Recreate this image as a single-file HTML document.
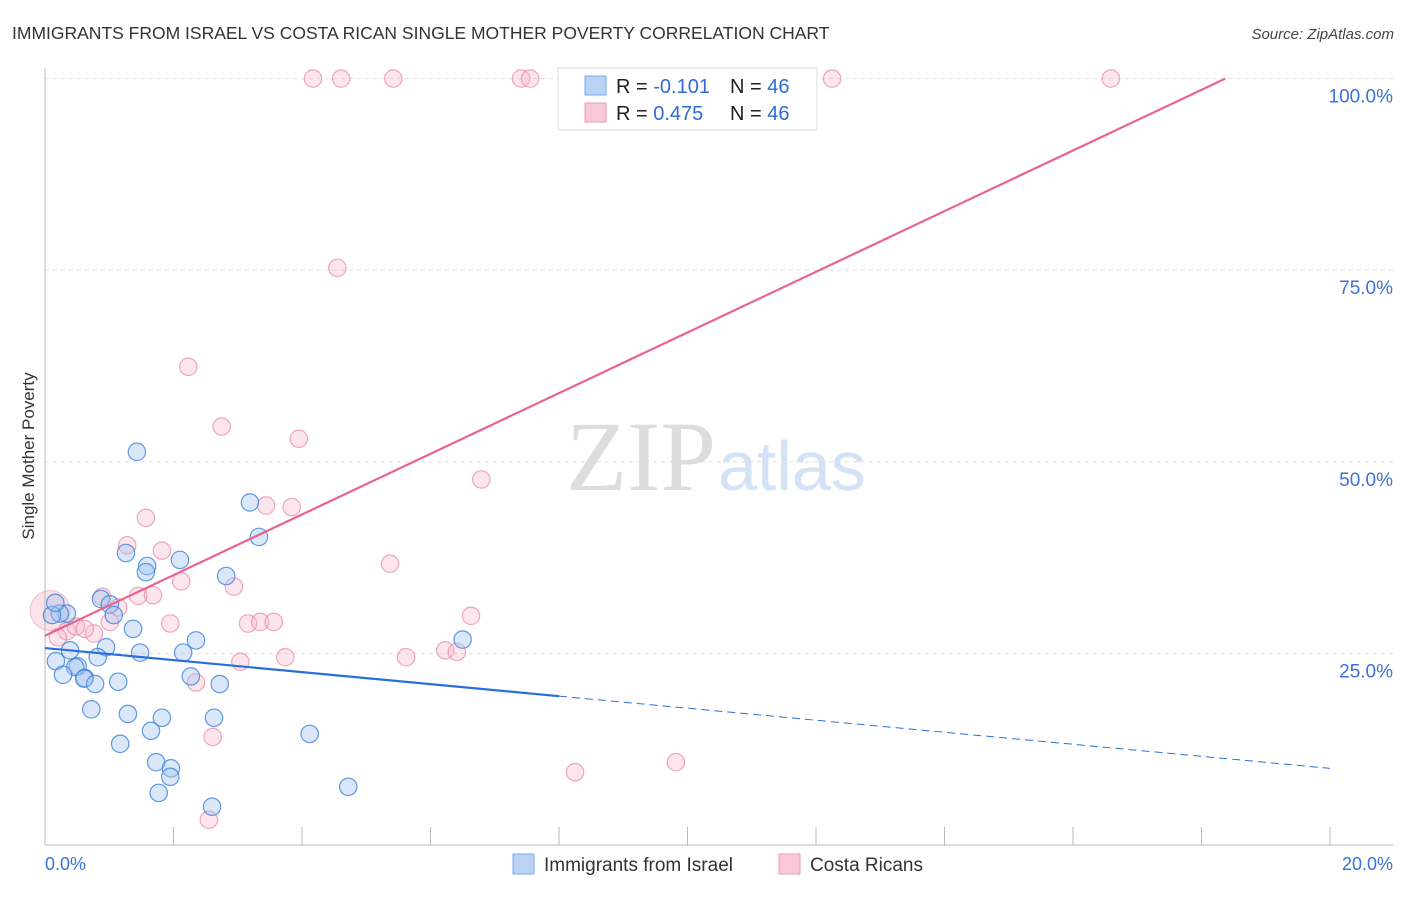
<!DOCTYPE html>
<html><head><meta charset="utf-8"><style>
body{margin:0;background:#fff;font-family:"Liberation Sans",sans-serif}
svg text{font-family:"Liberation Sans",sans-serif}
</style></head><body>
<svg id="c" width="1406" height="892">
<text x="12" y="39" font-size="17.5" fill="#333">IMMIGRANTS FROM ISRAEL VS COSTA RICAN SINGLE MOTHER POVERTY CORRELATION CHART</text>
<text x="1394" y="39" font-size="15" fill="#444" font-style="italic" text-anchor="end">Source: ZipAtlas.com</text>
<text x="34" y="456" font-size="17" fill="#333" transform="rotate(-90 34 456)" text-anchor="middle">Single Mother Poverty</text>
<g id="grid"></g>
<text x="716" y="490" font-size="100" fill="#ddd" text-anchor="end" style="font-family:'Liberation Serif',serif">ZIP</text>
<text x="718" y="490" font-size="70" fill="#d4e2f5">atlas</text>
<g id="pts"></g>
<g id="lines"></g>
<g>
<rect x="558" y="68" width="259" height="62" fill="#fff" stroke="#ddd"/>
<rect x="585" y="76" width="21" height="19" fill="#b8d3f5" stroke="#7aa8e6"/>
<rect x="585" y="103" width="21" height="19" fill="#f9c8d6" stroke="#ee9ab4"/>
<text x="616" y="93" font-size="20" fill="#222">R = <tspan fill="#2f6bd6">-0.101</tspan></text>
<text x="730" y="93" font-size="20" fill="#222">N = <tspan fill="#2f6bd6">46</tspan></text>
<text x="616" y="120" font-size="20" fill="#222">R = <tspan fill="#2f6bd6"> 0.475</tspan></text>
<text x="730" y="120" font-size="20" fill="#222">N = <tspan fill="#2f6bd6">46</tspan></text>
</g>
<g>
<rect x="513" y="854" width="21" height="20" fill="#b8d3f5" stroke="#7aa8e6"/>
<text x="544" y="871" font-size="19" fill="#333">Immigrants from Israel</text>
<rect x="779" y="854" width="21" height="20" fill="#f9c8d6" stroke="#ee9ab4"/>
<text x="810" y="871" font-size="19" fill="#333">Costa Ricans</text>
</g>
</svg>
<script>
const israelX=[1.43,3.19,3.33,1.26,2.1,1.59,1.57,2.82,0.87,1.01,1.07,0.34,0.23,1.37,2.35,6.5,0.95,1.48,2.15,0.39,0.82,0.17,0.51,0.47,0.28,2.27,0.62,0.61,0.78,1.14,2.72,0.72,1.29,1.82,2.63,1.65,4.12,1.17,1.73,1.96,1.95,4.72,1.77,2.6,0.11,0.16];
const israelY=[51.3,44.7,40.2,38.1,37.2,36.4,35.6,35.1,32.1,31.4,30,30.2,30.2,28.2,26.7,26.8,25.8,25.1,25.1,25.4,24.5,24,23.3,23.2,22.2,22,21.8,21.7,21,21.3,21,17.7,17.1,16.6,16.6,14.9,14.5,13.2,10.8,10,8.9,7.6,6.8,5,30,31.6];
const costaX=[4.17,4.61,5.42,7.41,7.55,12.25,16.59,4.55,2.23,2.75,3.95,6.79,1.57,3.44,3.84,1.28,1.82,5.37,2.12,2.94,0.89,1.45,1.68,1.14,1.01,1.95,3.16,3.35,3.56,6.63,0.76,0.34,0.48,0.2,6.23,6.41,3.04,3.74,5.62,2.35,2.61,8.25,9.82,2.55,0.08,0.62];
const costaY=[100,100,100,100,100,100,100,75.3,62.4,54.6,53,47.7,42.7,44.3,44.1,39.1,38.4,36.7,34.4,33.7,32.4,32.5,32.6,31,29.1,28.9,28.9,29.1,29.1,29.9,27.6,27.9,28.5,27.1,25.4,25.2,23.9,24.5,24.5,21.2,14.1,9.5,10.8,3.3,30.6,28.2];
const xTicks=[0,2,4,6,8,10,12,14,16,18,20];
const yTicks=[25,50,75,100];
const X=v=>45+v*64.25, Y=v=>845-v*7.664;
const NS="http://www.w3.org/2000/svg";
function mk(tag,at,parent){const e=document.createElementNS(NS,tag);for(const k in at)e.setAttribute(k,at[k]);parent.appendChild(e);return e;}
const g=document.getElementById('grid'),p=document.getElementById('pts'),l=document.getElementById('lines');
mk('line',{x1:45,y1:68,x2:45,y2:845,stroke:'#bbb'},g);
mk('line',{x1:45,y1:845,x2:1393,y2:845,stroke:'#bbb'},g);
yTicks.forEach(t=>{
 const ln=mk('line',{x1:45,y1:Y(t),x2:1393,y2:Y(t),stroke:'#ddd','stroke-dasharray':'4,4'},g);
 
 
 const tx=mk('text',{x:1393,y:Y(t)+24,'font-size':19,fill:'#3a72d8','text-anchor':'end'},g);
 tx.textContent=t.toFixed(1)+'%';
 
 
});
xTicks.forEach(t=>{
 const tk=mk('line',{x1:X(t),y1:827,x2:X(t),y2:845,stroke:'#bbb'},g);
 
 
});
[[0,'start'],[20,'end']].forEach(([t,a])=>{
 const tx=mk('text',{x:t==0?45:1393,y:870,'font-size':18,fill:'#3a72d8','text-anchor':a},g);
 tx.textContent=t.toFixed(1)+'%';
 
 
});
const big=mk('circle',{cx:X(0.08),cy:Y(30.6),r:20,fill:'rgba(240,160,185,0.3)',stroke:'rgba(230,140,170,0.5)'},p);


costaX.forEach((x,i)=>{if(i==44)return;
 const c=mk('circle',{cx:X(x),cy:Y(costaY[i]),r:8.7,fill:'rgba(245,180,200,0.35)',stroke:'rgba(235,140,170,0.75)','stroke-width':1.2},p);
 
 
});
israelX.forEach((x,i)=>{
 const c=mk('circle',{cx:X(x),cy:Y(israelY[i]),r:8.7,fill:'rgba(160,195,240,0.4)',stroke:'rgba(60,130,220,0.8)','stroke-width':1.2},p);
 
 
});
const pinkLine=mk('line',{x1:X(0),y1:Y(27.3),x2:X(18.37),y2:Y(100),stroke:'#e8648e','stroke-width':2.2},l);


const bs=x=>25.7-0.785*x;
const b1=mk('line',{x1:X(0),y1:Y(bs(0)),x2:X(8),y2:Y(bs(8)),stroke:'#2a6fd8','stroke-width':2.2},l);


const b2=mk('line',{x1:X(8),y1:Y(bs(8)),x2:X(20),y2:Y(bs(20)),stroke:'#2a6fd8','stroke-width':1,'stroke-dasharray':'8,5'},l);


</script>
</body></html>
